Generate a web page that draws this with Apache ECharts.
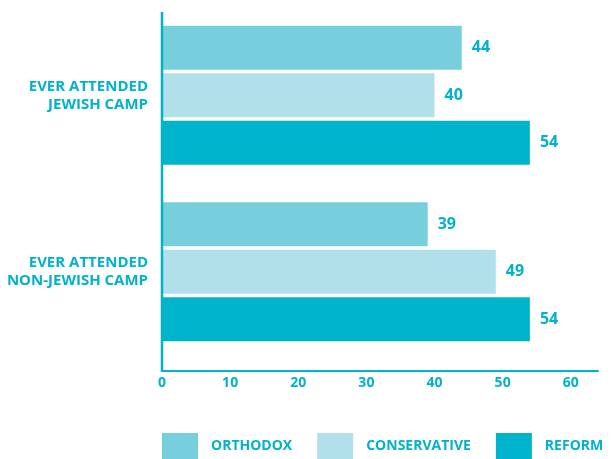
<!DOCTYPE html>
<html>
<head>
<meta charset="utf-8">
<script src="https://cdn.jsdelivr.net/npm/echarts@6/dist/echarts.min.js"></script>
<style>
html, body { margin: 0; padding: 0; background: #fff; }
#main { width: 611px; height: 459px; }
</style>
</head>
<body>
<div id="main"></div>
<script>
var categories = ['EVER ATTENDED\nJEWISH CAMP', 'EVER ATTENDED\nNON-JEWISH CAMP'];
var seriesNames = ['ORTHODOX', 'CONSERVATIVE', 'REFORM'];
var orthodox = [44, 39];
var conservative = [40, 49];
var reform = [54, 54];
var xTicks = [0, 10, 20, 30, 40, 50, 60];

var teal = '#00B2CB';
var font = '"Open Sans", sans-serif';
var colors = ['#77CEDD', '#B2E0EA', '#00B4CB'];

var myChart = echarts.init(document.getElementById('main'));

function barSeries(name, data, color) {
    return {
        name: name,
        type: 'bar',
        data: data,
        barWidth: 44,
        barGap: '8%',
        itemStyle: { color: color },
        label: {
            show: true,
            position: 'right',
            distance: 10,
            color: teal,
            fontFamily: font,
            fontWeight: 'bold',
            fontSize: 16
        }
    };
}

var option = {
    animation: false,
    grid: {
        left: 162,
        top: 7,
        width: 436,
        height: 353
    },
    legend: {
        data: seriesNames,
        left: 162,
        top: 433,
        width: 449,
        padding: 0,
        itemWidth: 36,
        itemHeight: 26,
        itemGap: 25,
        icon: 'rect',
        textStyle: {
            color: teal,
            fontFamily: font,
            fontWeight: 'bold',
            fontSize: 14,
            padding: [0, 0, 0, 8]
        }
    },
    xAxis: {
        type: 'value',
        min: 0,
        max: 64,
        interval: 10,
        offset: 11,
        axisLine: { show: true, lineStyle: { color: teal, width: 2 } },
        axisTick: { show: false },
        splitLine: { show: false },
        axisLabel: {
            color: teal,
            fontFamily: font,
            fontWeight: 'bold',
            fontSize: 14,
            margin: 5,
            formatter: function (v) {
                return xTicks.indexOf(v) >= 0 ? String(v) : '';
            }
        }
    },
    yAxis: {
        type: 'category',
        inverse: true,
        data: categories,
        axisLine: { show: false },
        axisTick: { show: false },
        axisLabel: {
            color: teal,
            fontFamily: font,
            fontWeight: 'bold',
            fontSize: 15,
            lineHeight: 18,
            margin: 14,
            align: 'right'
        }
    },
    graphic: [{
        type: 'line',
        shape: { x1: 162, y1: 12, x2: 162, y2: 372 },
        style: { stroke: teal, lineWidth: 2.5 },
        z: 10
    }],
    series: [
        barSeries(seriesNames[0], orthodox, colors[0]),
        barSeries(seriesNames[1], conservative, colors[1]),
        barSeries(seriesNames[2], reform, colors[2])
    ]
};

myChart.setOption(option);
</script>
</body>
</html>
